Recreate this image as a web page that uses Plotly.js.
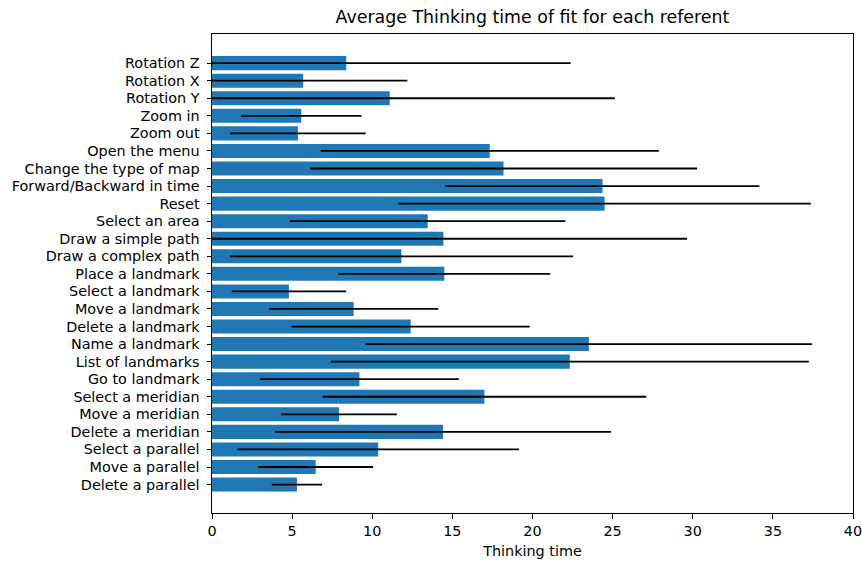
<!DOCTYPE html>
<html>
<head>
<meta charset="utf-8">
<script src="https://cdn.plot.ly/plotly-3.0.1.min.js"></script>
<style>html,body{margin:0;padding:0;background:#fff;}#chart{width:862px;height:563px;}</style>
</head>
<body>
<div id="chart"></div>
<script>
// Categories listed top to bottom as they appear in the chart
const categories = [
  "Rotation Z", "Rotation X", "Rotation Y", "Zoom in", "Zoom out",
  "Open the menu", "Change the type of map", "Forward/Backward in time", "Reset",
  "Select an area", "Draw a simple path", "Draw a complex path", "Place a landmark",
  "Select a landmark", "Move a landmark", "Delete a landmark", "Name a landmark",
  "List of landmarks", "Go to landmark", "Select a meridian", "Move a meridian",
  "Delete a meridian", "Select a parallel", "Move a parallel", "Delete a parallel"
];
// Average thinking time (bar length)
const meanTime = [
  8.38, 5.69, 11.09, 5.57, 5.36,
  17.33, 18.19, 24.37, 24.50,
  13.46, 14.44, 11.82, 14.50,
  4.80, 8.84, 12.40, 23.52,
  22.33, 9.20, 17.00, 7.93,
  14.42, 10.37, 6.47, 5.30
];
// Standard deviation (error bar half-length)
const stdTime = [
  14.0, 6.5, 14.05, 3.75, 4.23,
  10.55, 12.08, 9.79, 12.87,
  8.6, 15.2, 10.71, 6.6,
  3.57, 5.28, 7.43, 13.93,
  14.91, 6.2, 10.1, 3.6,
  10.48, 8.78, 3.58, 1.57
];
const xTicks = [0, 5, 10, 15, 20, 25, 30, 35, 40];

const n = categories.length;
const trace = {
  type: "bar",
  orientation: "h",
  y: categories,
  x: meanTime,
  width: 0.8,
  marker: {color: "#1f77b4", line: {width: 0}},
  error_x: {type: "data", array: stdTime, symmetric: true, visible: true,
            color: "#000000", thickness: 1.8, width: 0},
  hoverinfo: "x+y"
};

const layout = {
  width: 862, height: 563,
  margin: {l: 212, r: 9, t: 33.5, b: 49.5},
  paper_bgcolor: "#ffffff", plot_bgcolor: "#ffffff",
  font: {family: "DejaVu Sans", size: 14.4, color: "#000000"},
  title: {text: "Average Thinking time of fit for each referent",
          font: {family: "DejaVu Sans", size: 17.4, color: "#000000"},
          x: 0.6177, xanchor: "center", y: 0.97, yanchor: "middle"},
  showlegend: false,
  bargap: 0.2,
  xaxis: {
    range: [0, 40], tickvals: xTicks, ticktext: xTicks.map(String),
    showgrid: false, zeroline: false,
    showline: true, linecolor: "#000000", linewidth: 1, mirror: true,
    ticks: "outside", ticklen: 4.5, tickwidth: 1, tickcolor: "#000000",
    ticklabeloverflow: "allow",
    title: {text: "Thinking time", font: {family: "DejaVu Sans", size: 14.4, color: "#000000"}, standoff: 8},
    fixedrange: true
  },
  yaxis: {
    type: "category",
    categoryorder: "array", categoryarray: categories,
    range: [n - 1 + 1.62, -1.66],
    showgrid: false, zeroline: false,
    showline: true, linecolor: "#000000", linewidth: 1, mirror: true,
    ticks: "outside", ticklen: 4.5, tickwidth: 1, tickcolor: "#000000",
    ticklabelstandoff: 4,
    fixedrange: true
  }
};

Plotly.newPlot("chart", [trace], layout, {displayModeBar: false, staticPlot: true});
</script>
</body>
</html>
